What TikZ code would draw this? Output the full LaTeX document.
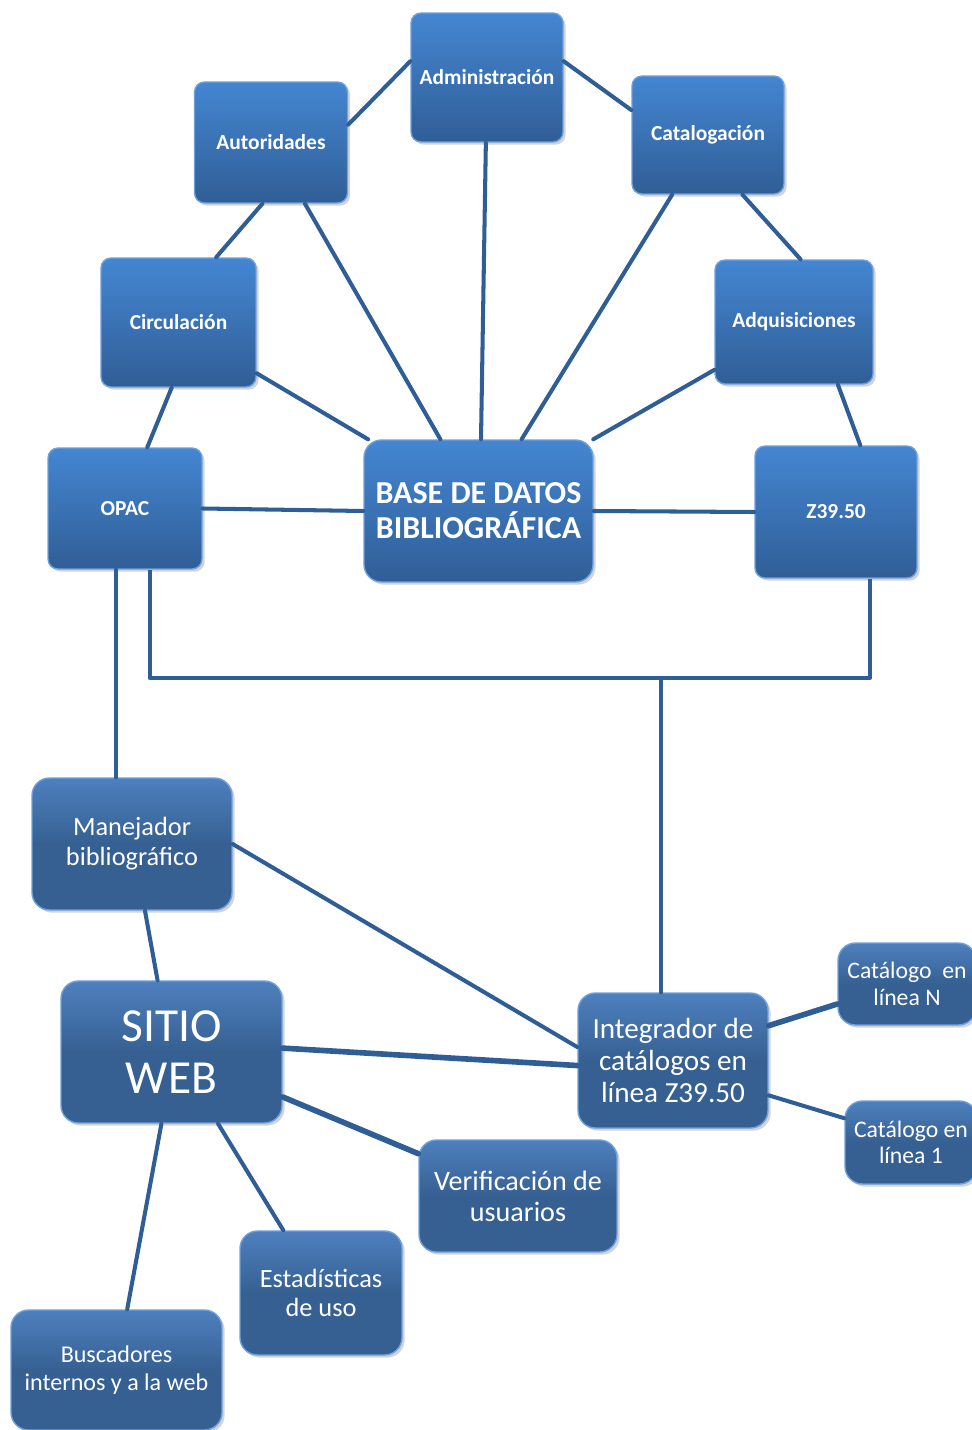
\documentclass[tikz,border=0pt]{standalone}
\usepackage{fontspec}
\setmainfont{Carlito}
\usetikzlibrary{shadows}
\definecolor{linea}{RGB}{46,94,149}
\definecolor{azulclaro}{RGB}{68,134,210}
\definecolor{azuloscuro}{RGB}{48,94,150}
\definecolor{azulplano}{RGB}{54,96,146}
\definecolor{azultope}{RGB}{78,128,190}
\definecolor{borde}{RGB}{110,160,220}
\begin{document}
\begin{tikzpicture}[x=0.02cm, y=-0.02cm, line join=round, line cap=round,
    modulo/.style={rectangle, rounded corners=0.2cm, top color=azulclaro, bottom color=azuloscuro,
      draw=borde, line width=0.8pt, text=white, inner sep=0pt, align=center,
      font=\fontsize{12.2}{14}\selectfont\bfseries,
      drop shadow={opacity=0.35, shadow xshift=1.5pt, shadow yshift=-1.5pt}},
    servicio/.style={rectangle, rounded corners=0.35cm, top color=azultope, bottom color=azulplano,
      middle color=azulplano, draw=borde, line width=0.8pt, text=white, inner sep=0pt, align=center,
      drop shadow={opacity=0.35, shadow xshift=1.5pt, shadow yshift=-1.5pt}},
    enlace/.style={draw=linea, line width=2.3pt}]
  \clip (0,0) rectangle (972,1430);
  \useasboundingbox (0,0) rectangle (972,1430);
  % --- modulos del sistema --------------------------------------
  \node[modulo, minimum width=3.04cm, minimum height=2.58cm] (adm) at (487,77.5) {Administración};
  \node[modulo, minimum width=3.06cm, minimum height=2.42cm] (aut) at (271,142.5) {Autoridades};
  \node[modulo, minimum width=3.04cm, minimum height=2.36cm] (cat) at (708,135) {Catalogación};
  \node[modulo, minimum width=3.10cm, minimum height=2.58cm] (circ) at (178.5,322.5) {Circulación};
  \node[modulo, minimum width=3.16cm, minimum height=2.48cm] (adq) at (794,322) {Adquisiciones};
  \node[modulo, minimum width=3.08cm, minimum height=2.42cm] (opac) at (125,508.5) {OPAC};
  \node[modulo, minimum width=3.24cm, minimum height=2.64cm] (z) at (836,512) {Z39.50};
  \node[modulo, minimum width=4.58cm, minimum height=2.84cm, rounded corners=0.35cm,
    font=\fontsize{18.2}{20}\selectfont\bfseries] (base) at (478.5,511) {BASE DE DATOS\\BIBLIOGRÁFICA};
  % --- servicios web --------------------------------------------
  \node[servicio, minimum width=4.00cm, minimum height=2.64cm, font=\fontsize{15}{17}\selectfont]
    (man) at (132,844) {Manejador\\bibliográfico};
  \node[servicio, minimum width=4.42cm, minimum height=2.84cm, font=\fontsize{27}{30}\selectfont]
    (sitio) at (171.5,1052) {SITIO\\WEB};
  \node[servicio, minimum width=3.80cm, minimum height=2.70cm, font=\fontsize{16.6}{18.2}\selectfont]
    (int) at (673,1060.5) {Integrador de\\catálogos en\\línea Z39.50};
  \node[servicio, minimum width=2.76cm, minimum height=1.64cm, font=\fontsize{13.5}{15}\selectfont]
    (catn) at (907,984) {Catálogo\ \ en\\línea N};
  \node[servicio, minimum width=2.64cm, minimum height=1.66cm, font=\fontsize{13.5}{15}\selectfont]
    (cato) at (911,1142.5) {Catálogo en\\línea 1};
  \node[servicio, minimum width=3.96cm, minimum height=2.24cm, font=\fontsize{16}{17.6}\selectfont]
    (ver) at (518,1196) {Verificación de\\usuarios};
  \node[servicio, minimum width=3.24cm, minimum height=2.48cm, font=\fontsize{15}{16.5}\selectfont]
    (est) at (321,1293) {Estadísticas\\de uso};
  \node[servicio, minimum width=4.22cm, minimum height=2.40cm, font=\fontsize{13.7}{15.9}\selectfont]
    (busc) at (116.5,1370) {Buscadores\\internos y a la web};
  % --- enlaces entre modulos ------------------------------------
  \draw[enlace] (aut.13) -- (adm.168);
  \draw[enlace] (adm.12) -- (cat.162);
  \draw[enlace] (aut.262) -- (circ.60);
  \draw[enlace] (cat.300) -- (adq.84);
  \draw[enlace] (circ.264) -- (opac.70);
  \draw[enlace] (adq.305) -- (z.70);
  % --- enlaces a la base ----------------------------------------
  \draw[enlace] (aut.299) -- (base.118);
  \draw[enlace] (adm.269) -- (base.88);
  \draw[enlace] (cat.239) -- (base.59);
  \draw[enlace] (circ.327) -- (base.147);
  \draw[enlace] (adq.211) -- (base.32);
  \draw[enlace] (opac.east) -- (base.west);
  \draw[enlace] (base.east) -- (z.west);
  % --- bus hacia el integrador ----------------------------------
  \coordinate (bus) at (661,678);
  \draw[enlace, line cap=butt] (opac.292) |- (bus) -| (z.297);
  \draw[enlace] (bus) -- (bus |- int.north);
  \draw[enlace] (opac.262) -- (opac.262 |- man.north);
  % --- enlaces del sitio web ------------------------------------
  \draw[enlace] (man.281) -- (sitio.101);
  \draw[enlace] (man.east) -- (int.172);
  \draw[enlace, line width=3.2pt] (sitio.2) -- (int.183);
  \draw[enlace, line width=3.2pt] (sitio.338) -- (ver.157);
  \draw[enlace] (sitio.303) -- (est.121);
  \draw[enlace] (sitio.262) -- (busc.80);
  \draw[enlace, line width=3.2pt] (int.20) -- (catn.196);
  \draw[enlace] (int.340) -- (cato.160);
\end{tikzpicture}
\end{document}
